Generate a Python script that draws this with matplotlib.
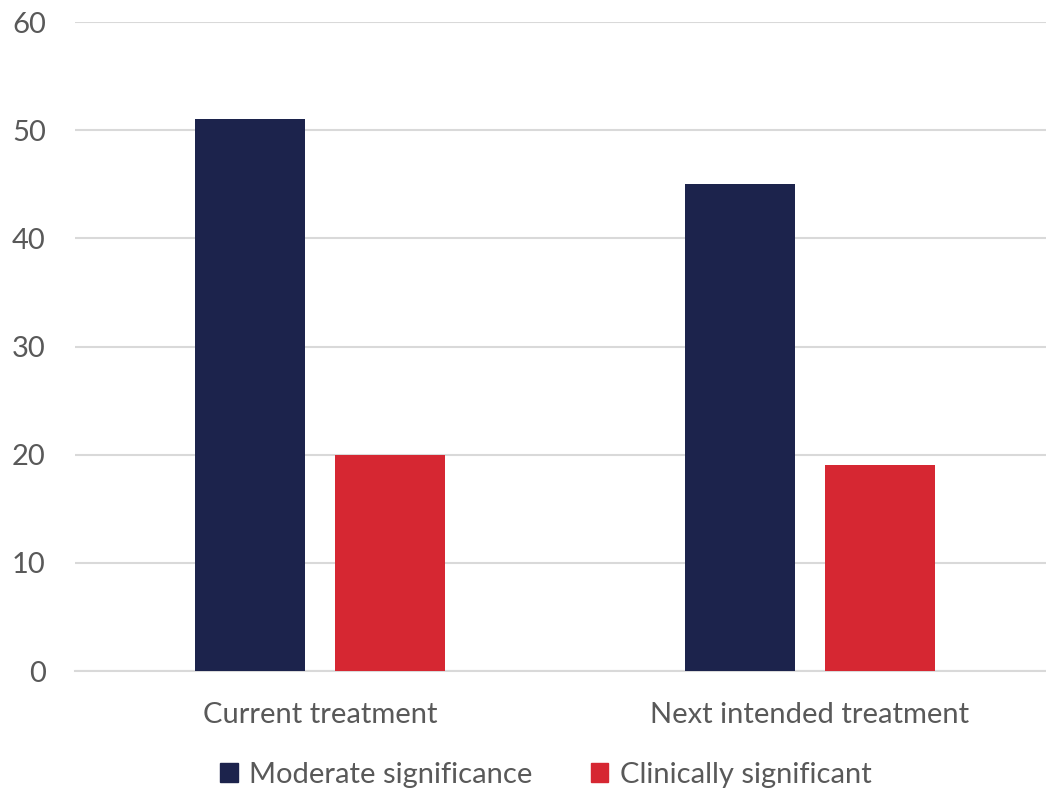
import numpy as np
import matplotlib.pyplot as plt
from matplotlib.patches import Patch

# Chart data.
categories = ["Current treatment", "Next intended treatment"]
moderate = [51, 45]
clinical = [20, 19]
series_names = ["Moderate significance", "Clinically significant"]
yticks = [0, 10, 20, 30, 40, 50, 60]

navy = "#1C234C"
red = "#D62732"
textGrey = "#595959"
gridGrey = "#D9D9D9"

plt.rcParams["font.family"] = ["Lato", "DejaVu Sans"]

fig = plt.figure(figsize=(10.46, 7.91), dpi=100)
# plot area runs a little past the right edge of the canvas
ax = fig.add_axes([75/1046, 1 - 671/791, 980/1046, (671 - 22)/791])

x = np.arange(len(categories))
width = 0.2245
offset = 0.1429
ax.bar(x - offset, moderate, width, color=navy, zorder=3)
ax.bar(x + offset, clinical, width, color=red, zorder=3)

ax.set_xlim(-0.5, 1.5)
ax.set_ylim(0, 60)
ax.set_yticks(yticks)
ax.set_xticks(x)
ax.set_xticklabels(categories)
ax.tick_params(axis="both", length=0, labelsize=21, colors=textGrey)
ax.tick_params(axis="x", pad=22)
ax.tick_params(axis="y", pad=21)

ax.yaxis.grid(True, color=gridGrey, linewidth=1.5, zorder=0)
for side in ["top", "right", "left"]:
    ax.spines[side].set_visible(False)
ax.spines["bottom"].set_color(gridGrey)
ax.spines["bottom"].set_linewidth(1.5)

handles = [Patch(color=navy), Patch(color=red)]
fig.legend(handles, series_names, loc="center", bbox_to_anchor=(546/1046, 1 - 775/791),
           ncol=2, frameon=False, fontsize=21, labelcolor=textGrey,
           handlelength=0.6, handleheight=0.6, handletextpad=0.4, columnspacing=2.0)

fig.savefig("out.png", dpi=100)
